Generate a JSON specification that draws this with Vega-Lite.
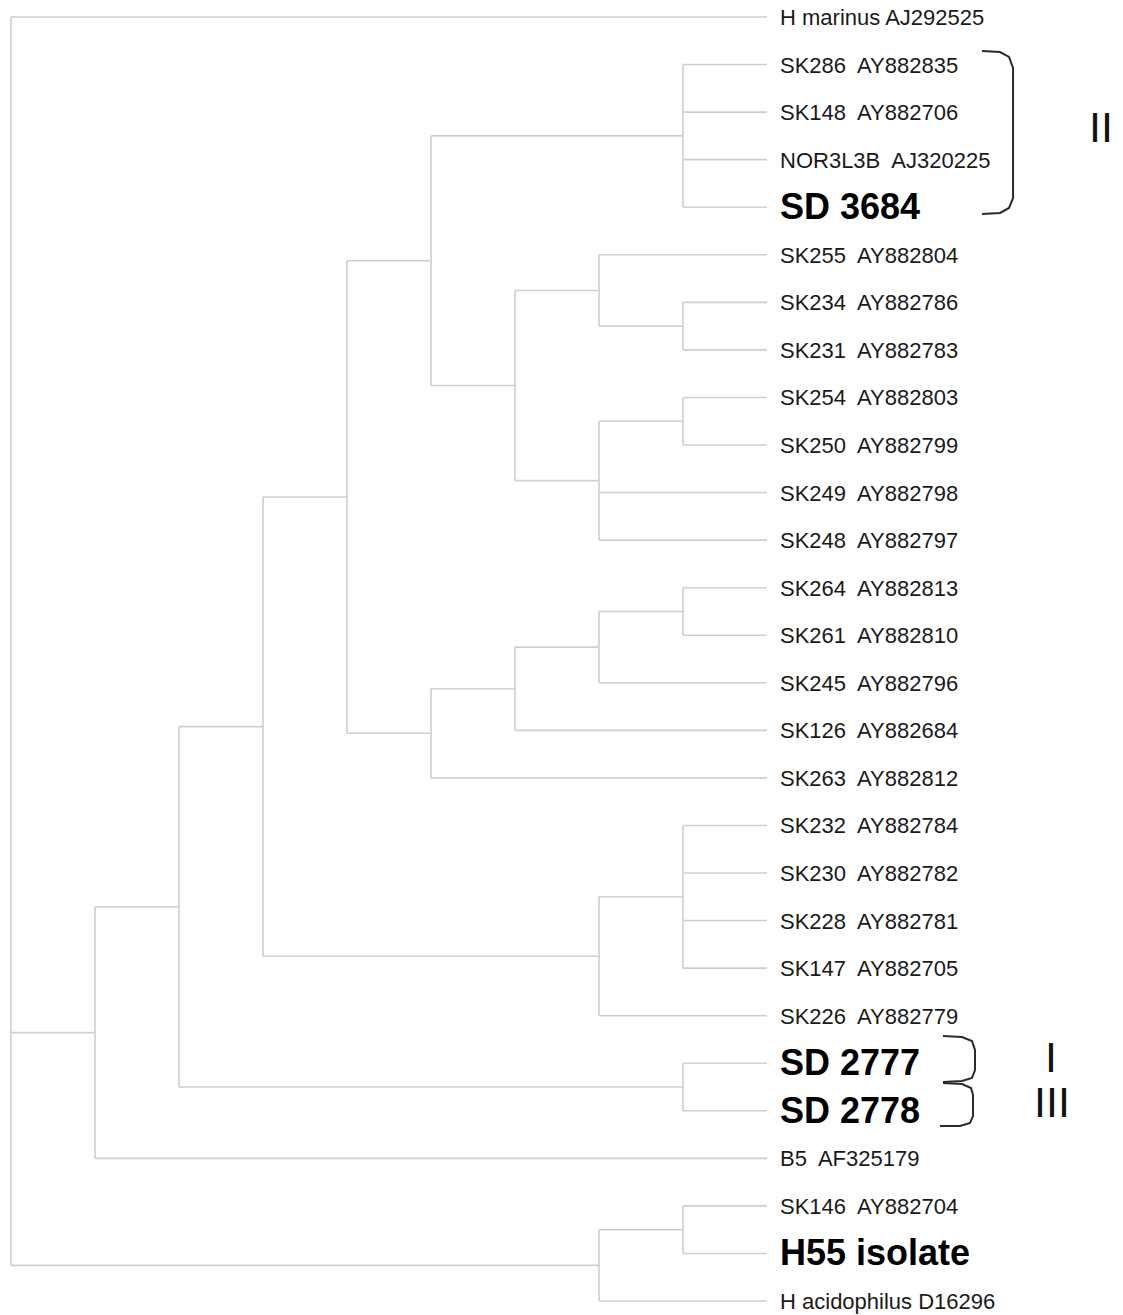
{
  "$schema": "https://vega.github.io/schema/vega-lite/v6.json",
  "width": 1123,
  "height": 1315,
  "autosize": {"type": "fit", "contains": "padding"},
  "padding": 0,
  "background": "white",
  "config": {"view": {"stroke": null}},
  "datasets": {
    "branches": [
      {"x0": 0, "x1": 9, "y0": 1, "y1": 1},
      {"x0": 0, "x1": 0, "y0": 1, "y1": 27.25},
      {"x0": 0, "x1": 1, "y0": 22.3555, "y1": 22.3555},
      {"x0": 0, "x1": 7, "y0": 27.25, "y1": 27.25},
      {"x0": 7, "x1": 7, "y0": 26.5, "y1": 28},
      {"x0": 7, "x1": 8, "y0": 26.5, "y1": 26.5},
      {"x0": 7, "x1": 9, "y0": 28, "y1": 28},
      {"x0": 8, "x1": 8, "y0": 26, "y1": 27},
      {"x0": 8, "x1": 9, "y0": 26, "y1": 26},
      {"x0": 8, "x1": 9, "y0": 27, "y1": 27},
      {"x0": 1, "x1": 1, "y0": 19.7109, "y1": 25},
      {"x0": 1, "x1": 9, "y0": 25, "y1": 25},
      {"x0": 1, "x1": 2, "y0": 19.7109, "y1": 19.7109},
      {"x0": 2, "x1": 2, "y0": 15.9219, "y1": 23.5},
      {"x0": 2, "x1": 8, "y0": 23.5, "y1": 23.5},
      {"x0": 8, "x1": 8, "y0": 23, "y1": 24},
      {"x0": 8, "x1": 9, "y0": 23, "y1": 23},
      {"x0": 8, "x1": 9, "y0": 24, "y1": 24},
      {"x0": 2, "x1": 3, "y0": 15.9219, "y1": 15.9219},
      {"x0": 3, "x1": 3, "y0": 11.0938, "y1": 20.75},
      {"x0": 3, "x1": 7, "y0": 20.75, "y1": 20.75},
      {"x0": 7, "x1": 7, "y0": 19.5, "y1": 22},
      {"x0": 7, "x1": 9, "y0": 22, "y1": 22},
      {"x0": 7, "x1": 8, "y0": 19.5, "y1": 19.5},
      {"x0": 8, "x1": 8, "y0": 18, "y1": 21},
      {"x0": 8, "x1": 9, "y0": 18, "y1": 18},
      {"x0": 8, "x1": 9, "y0": 19, "y1": 19},
      {"x0": 8, "x1": 9, "y0": 20, "y1": 20},
      {"x0": 8, "x1": 9, "y0": 21, "y1": 21},
      {"x0": 3, "x1": 4, "y0": 11.0938, "y1": 11.0938},
      {"x0": 4, "x1": 4, "y0": 6.125, "y1": 16.0625},
      {"x0": 4, "x1": 5, "y0": 6.125, "y1": 6.125},
      {"x0": 4, "x1": 5, "y0": 16.0625, "y1": 16.0625},
      {"x0": 5, "x1": 5, "y0": 3.5, "y1": 8.75},
      {"x0": 5, "x1": 8, "y0": 3.5, "y1": 3.5},
      {"x0": 8, "x1": 8, "y0": 2, "y1": 5},
      {"x0": 8, "x1": 9, "y0": 2, "y1": 2},
      {"x0": 8, "x1": 9, "y0": 3, "y1": 3},
      {"x0": 8, "x1": 9, "y0": 4, "y1": 4},
      {"x0": 8, "x1": 9, "y0": 5, "y1": 5},
      {"x0": 5, "x1": 6, "y0": 8.75, "y1": 8.75},
      {"x0": 6, "x1": 6, "y0": 6.75, "y1": 10.75},
      {"x0": 6, "x1": 7, "y0": 6.75, "y1": 6.75},
      {"x0": 6, "x1": 7, "y0": 10.75, "y1": 10.75},
      {"x0": 7, "x1": 7, "y0": 6, "y1": 7.5},
      {"x0": 7, "x1": 9, "y0": 6, "y1": 6},
      {"x0": 7, "x1": 8, "y0": 7.5, "y1": 7.5},
      {"x0": 8, "x1": 8, "y0": 7, "y1": 8},
      {"x0": 8, "x1": 9, "y0": 7, "y1": 7},
      {"x0": 8, "x1": 9, "y0": 8, "y1": 8},
      {"x0": 7, "x1": 7, "y0": 9.5, "y1": 12},
      {"x0": 7, "x1": 8, "y0": 9.5, "y1": 9.5},
      {"x0": 8, "x1": 8, "y0": 9, "y1": 10},
      {"x0": 8, "x1": 9, "y0": 9, "y1": 9},
      {"x0": 8, "x1": 9, "y0": 10, "y1": 10},
      {"x0": 7, "x1": 9, "y0": 11, "y1": 11},
      {"x0": 7, "x1": 9, "y0": 12, "y1": 12},
      {"x0": 5, "x1": 5, "y0": 15.125, "y1": 17},
      {"x0": 5, "x1": 9, "y0": 17, "y1": 17},
      {"x0": 5, "x1": 6, "y0": 15.125, "y1": 15.125},
      {"x0": 6, "x1": 6, "y0": 14.25, "y1": 16},
      {"x0": 6, "x1": 9, "y0": 16, "y1": 16},
      {"x0": 6, "x1": 7, "y0": 14.25, "y1": 14.25},
      {"x0": 7, "x1": 7, "y0": 13.5, "y1": 15},
      {"x0": 7, "x1": 9, "y0": 15, "y1": 15},
      {"x0": 7, "x1": 8, "y0": 13.5, "y1": 13.5},
      {"x0": 8, "x1": 8, "y0": 13, "y1": 14},
      {"x0": 8, "x1": 9, "y0": 13, "y1": 13},
      {"x0": 8, "x1": 9, "y0": 14, "y1": 14}
    ],
    "leaves": [
      {"leaf": 1, "name": "H marinus AJ292525", "study": false},
      {"leaf": 2, "name": "SK286\u00a0 AY882835", "study": false},
      {"leaf": 3, "name": "SK148\u00a0 AY882706", "study": false},
      {"leaf": 4, "name": "NOR3L3B\u00a0 AJ320225", "study": false},
      {"leaf": 5, "name": "SD 3684", "study": true},
      {"leaf": 6, "name": "SK255\u00a0 AY882804", "study": false},
      {"leaf": 7, "name": "SK234\u00a0 AY882786", "study": false},
      {"leaf": 8, "name": "SK231\u00a0 AY882783", "study": false},
      {"leaf": 9, "name": "SK254\u00a0 AY882803", "study": false},
      {"leaf": 10, "name": "SK250\u00a0 AY882799", "study": false},
      {"leaf": 11, "name": "SK249\u00a0 AY882798", "study": false},
      {"leaf": 12, "name": "SK248\u00a0 AY882797", "study": false},
      {"leaf": 13, "name": "SK264\u00a0 AY882813", "study": false},
      {"leaf": 14, "name": "SK261\u00a0 AY882810", "study": false},
      {"leaf": 15, "name": "SK245\u00a0 AY882796", "study": false},
      {"leaf": 16, "name": "SK126\u00a0 AY882684", "study": false},
      {"leaf": 17, "name": "SK263\u00a0 AY882812", "study": false},
      {"leaf": 18, "name": "SK232\u00a0 AY882784", "study": false},
      {"leaf": 19, "name": "SK230\u00a0 AY882782", "study": false},
      {"leaf": 20, "name": "SK228\u00a0 AY882781", "study": false},
      {"leaf": 21, "name": "SK147\u00a0 AY882705", "study": false},
      {"leaf": 22, "name": "SK226\u00a0 AY882779", "study": false},
      {"leaf": 23, "name": "SD 2777", "study": true},
      {"leaf": 24, "name": "SD 2778", "study": true},
      {"leaf": 25, "name": "B5\u00a0 AF325179", "study": false},
      {"leaf": 26, "name": "SK146\u00a0 AY882704", "study": false},
      {"leaf": 27, "name": "H55 isolate", "study": true},
      {"leaf": 28, "name": "H acidophilus D16296", "study": false}
    ],
    "brackets": [
      {"group": "II", "ord": 1, "bx": 11.56, "by": 1.715},
      {"group": "II", "ord": 2, "bx": 11.774, "by": 1.736},
      {"group": "II", "ord": 3, "bx": 11.881, "by": 1.841},
      {"group": "II", "ord": 4, "bx": 11.929, "by": 2.072},
      {"group": "II", "ord": 5, "bx": 11.929, "by": 4.806},
      {"group": "II", "ord": 6, "bx": 11.881, "by": 5.016},
      {"group": "II", "ord": 7, "bx": 11.774, "by": 5.121},
      {"group": "II", "ord": 8, "bx": 11.56, "by": 5.142},
      {"group": "I", "ord": 1, "bx": 11.095, "by": 22.427},
      {"group": "I", "ord": 2, "bx": 11.321, "by": 22.448},
      {"group": "I", "ord": 3, "bx": 11.44, "by": 22.533},
      {"group": "I", "ord": 4, "bx": 11.476, "by": 22.722},
      {"group": "I", "ord": 5, "bx": 11.476, "by": 23.142},
      {"group": "I", "ord": 6, "bx": 11.44, "by": 23.311},
      {"group": "I", "ord": 7, "bx": 11.321, "by": 23.374},
      {"group": "I", "ord": 8, "bx": 11.095, "by": 23.395},
      {"group": "III", "ord": 1, "bx": 11.095, "by": 23.416},
      {"group": "III", "ord": 2, "bx": 11.321, "by": 23.437},
      {"group": "III", "ord": 3, "bx": 11.429, "by": 23.521},
      {"group": "III", "ord": 4, "bx": 11.452, "by": 23.668},
      {"group": "III", "ord": 5, "bx": 11.452, "by": 24.11},
      {"group": "III", "ord": 6, "bx": 11.417, "by": 24.257},
      {"group": "III", "ord": 7, "bx": 11.298, "by": 24.32},
      {"group": "III", "ord": 8, "bx": 11.06, "by": 24.32}
    ],
    "groups": [
      {"label": "II", "gx": 12.976, "gy": 3.36},
      {"label": "I", "gx": 12.381, "gy": 22.92},
      {"label": "III", "gx": 12.393, "gy": 23.86}
    ]
  },
  "layer": [
    {
      "data": {"name": "branches"},
      "mark": {"type": "rule", "color": "#cfcfcf", "strokeWidth": 1.6},
      "encoding": {
        "x": {"field": "x0", "type": "quantitative", "scale": {"domain": [-0.131, 13.238], "nice": false, "zero": false}, "axis": null},
        "x2": {"field": "x1"},
        "y": {"field": "y0", "type": "quantitative", "scale": {"domain": [0.6425, 28.294], "nice": false, "zero": false, "reverse": true}, "axis": null},
        "y2": {"field": "y1"}
      }
    },
    {
      "data": {"name": "leaves"},
      "transform": [{"filter": "!datum.study"}],
      "mark": {"type": "text", "align": "left", "baseline": "middle", "dx": 13, "dy": 1, "font": "Liberation Sans", "fontSize": 22, "color": "#1a1a1a"},
      "encoding": {
        "x": {"datum": 9, "type": "quantitative"},
        "y": {"field": "leaf", "type": "quantitative"},
        "text": {"field": "name"}
      }
    },
    {
      "data": {"name": "leaves"},
      "transform": [{"filter": "datum.study"}],
      "mark": {"type": "text", "align": "left", "baseline": "middle", "dx": 13, "dy": 1, "font": "Liberation Sans", "fontSize": 36, "fontWeight": "bold", "color": "#000000"},
      "encoding": {
        "x": {"datum": 9, "type": "quantitative"},
        "y": {"field": "leaf", "type": "quantitative"},
        "text": {"field": "name"}
      }
    },
    {
      "data": {"name": "brackets"},
      "mark": {"type": "line", "color": "#2a2a2a", "strokeWidth": 2, "interpolate": "linear"},
      "encoding": {
        "x": {"field": "bx", "type": "quantitative"},
        "y": {"field": "by", "type": "quantitative"},
        "detail": {"field": "group"},
        "order": {"field": "ord"}
      }
    },
    {
      "data": {"name": "groups"},
      "mark": {"type": "text", "align": "center", "baseline": "middle", "font": "Liberation Sans", "fontSize": 43, "color": "#111111"},
      "encoding": {
        "x": {"field": "gx", "type": "quantitative"},
        "y": {"field": "gy", "type": "quantitative"},
        "text": {"field": "label"}
      }
    }
  ]
}
